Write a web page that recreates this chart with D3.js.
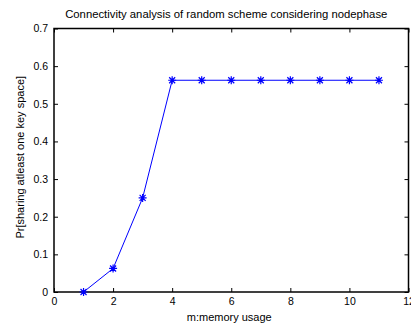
<!DOCTYPE html>
<html>
<head>
<meta charset="utf-8">
<script src="https://cdn.jsdelivr.net/npm/d3@7"></script>
<style>
  body { margin: 0; background: #fff; }
  text { font-family: "Liberation Sans", Arial, sans-serif; }
</style>
</head>
<body>
<script>
// chart data
var memory = [1, 2, 3, 4, 5, 6, 7, 8, 9, 10, 11];
var prob = [0, 0.0625, 0.25, 0.5625, 0.5625, 0.5625, 0.5625, 0.5625, 0.5625, 0.5625, 0.5625];
var xTicks = [0, 2, 4, 6, 8, 10, 12];
var yTicks = [0, 0.1, 0.2, 0.3, 0.4, 0.5, 0.6, 0.7];

var w = 411, h = 323;
var margin = {top: 28.5, right: 2.5, bottom: 31, left: 54};
var width = w - margin.left - margin.right;
var height = h - margin.top - margin.bottom;

var svg = d3.select("body").append("svg")
    .attr("width", w)
    .attr("height", h);

var chart = svg.append("g")
    .attr("transform", "translate(" + margin.left + "," + margin.top + ")");

var x = d3.scaleLinear().domain([0, 12]).range([0, width]);
var y = d3.scaleLinear().domain([0, 0.7]).range([height, 0]);

var fmtY = function(d) { return d === 0 ? "0" : d3.format(".1f")(d); };

// axes, ticks pointing inward like matlab
function styleAxis(g) {
    g.select(".domain").remove();
    g.selectAll("line").attr("stroke", "#000").attr("stroke-width", 1);
    g.selectAll("text").style("font-size", "10.5px").attr("fill", "#000");
}

chart.append("g")
    .attr("transform", "translate(0," + height + ")")
    .call(d3.axisBottom(x).tickValues(xTicks).tickSize(-4).tickPadding(6))
    .call(styleAxis);

chart.append("g")
    .call(d3.axisTop(x).tickValues(xTicks).tickSize(-4).tickFormat(""))
    .call(styleAxis);

chart.append("g")
    .call(d3.axisLeft(y).tickValues(yTicks).tickSize(-4).tickPadding(6).tickFormat(fmtY))
    .call(styleAxis);

chart.append("g")
    .attr("transform", "translate(" + width + ",0)")
    .call(d3.axisRight(y).tickValues(yTicks).tickSize(-4).tickFormat(""))
    .call(styleAxis);

// box
chart.append("rect")
    .attr("x", 0).attr("y", 0)
    .attr("width", width).attr("height", height)
    .attr("fill", "none")
    .attr("stroke", "#000")
    .attr("stroke-width", 1.5);

// the line
var line = d3.line()
    .x(function(d, i) { return x(memory[i]); })
    .y(function(d) { return y(d); });

chart.append("path")
    .datum(prob)
    .attr("d", line)
    .attr("fill", "none")
    .attr("stroke", "#0000ff")
    .attr("stroke-width", 1);

// asterisk markers
var star = chart.selectAll(".mark")
    .data(prob)
    .enter().append("g")
    .attr("transform", function(d, i) { return "translate(" + x(memory[i]) + "," + y(d) + ")"; });

star.append("path")
    .attr("d", "M-4,0L4,0M0,-4L0,4M-3,-3L3,3M-3,3L3,-3")
    .attr("stroke", "#0000ff")
    .attr("stroke-width", 1.2);

// labels
svg.append("text")
    .attr("x", margin.left + width / 2 - 5)
    .attr("y", 18)
    .attr("text-anchor", "middle")
    .style("font-size", "11.3px")
    .text("Connectivity analysis of random scheme considering nodephase");

svg.append("text")
    .attr("x", margin.left + width / 2 - 2)
    .attr("y", 321)
    .attr("text-anchor", "middle")
    .style("font-size", "11px")
    .text("m:memory usage");

svg.append("text")
    .attr("transform", "translate(" + 24 + "," + (margin.top + height / 2 - 3) + ") rotate(-90)")
    .attr("text-anchor", "middle")
    .style("font-size", "11px")
    .text("Pr[sharing atleast one key space]");
</script>
</body>
</html>
